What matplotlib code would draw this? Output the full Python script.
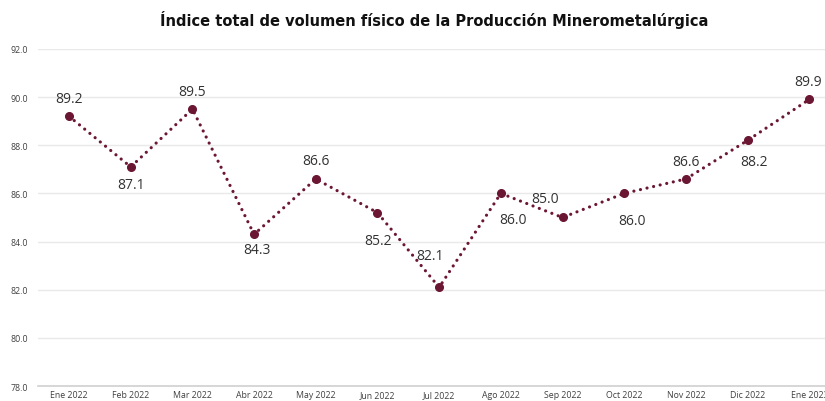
import matplotlib
matplotlib.use("Agg")
from matplotlib import pyplot as plt

# Datos del índice
meses = ["Ene 2022", "Feb 2022", "Mar 2022", "Abr 2022", "May 2022", "Jun 2022",
         "Jul 2022", "Ago 2022", "Sep 2022", "Oct 2022", "Nov 2022", "Dic 2022",
         "Ene 2023"]
valores = [89.2, 87.1, 89.5, 84.3, 86.6, 85.2, 82.1, 86.0, 85.0, 86.0, 86.6, 88.2, 89.9]
etiquetas_y = [78.0, 80.0, 82.0, 84.0, 86.0, 88.0, 90.0, 92.0]

# desplazamiento de cada etiqueta en pixeles (dx, dy)
desplaz = [(0, 18), (0, -18), (0, 18), (3, -15), (0, 18), (1, -28),
           (-9, 32), (12, -26), (-17, 19), (8, -27), (0, 17), (6, -21), (-1, 18)]

color = "#6b1632"

fig = plt.figure(figsize=(8.25, 4.02), dpi=100)
ax = fig.add_axes([0.0463, 0.037, 0.972, 0.839])

x = list(range(len(meses)))
ax.plot(x, valores, linestyle=(0, (0.01, 2.1)), dash_capstyle='round', color=color,
        linewidth=2.3, zorder=3)
ax.plot(x, valores, 'o', color=color, markersize=5.5, zorder=4)

for i, v in enumerate(valores):
    dx, dy = desplaz[i]
    ax.annotate(f"{v:.1f}", (i, v), xytext=(dx * 0.72, dy * 0.72), textcoords='offset points',
                ha='center', va='center', fontsize=10, color="#333333", family="Open Sans")

ax.set_xlim(-0.5, 12.5)
ax.set_ylim(78, 92)
ax.set_yticks(etiquetas_y)
ax.set_yticklabels([f"{t:.1f}" for t in etiquetas_y])
ax.set_xticks(x)
ax.set_xticklabels(meses)
ax.tick_params(axis='both', length=0, labelsize=6.3, colors="#404040")
ax.tick_params(axis='x', pad=3)
ax.tick_params(axis='y', pad=7)
for lab in ax.get_xticklabels() + ax.get_yticklabels():
    lab.set_family("Open Sans")

ax.grid(axis='y', color="#e9e9e9", linewidth=1)
ax.set_axisbelow(True)
for s in ['top', 'right', 'left']:
    ax.spines[s].set_visible(False)
ax.spines['bottom'].set_color("#d0d0d0")
ax.spines['bottom'].set_linewidth(1.2)

fig.text(0.526, 0.95, "Índice total de volumen físico de la Producción Minerometalúrgica",
         ha='center', va='center', fontsize=10.5, fontweight='bold', color="#111111",
         family="DejaVu Sans")

plt.savefig("out.png", dpi=100)
